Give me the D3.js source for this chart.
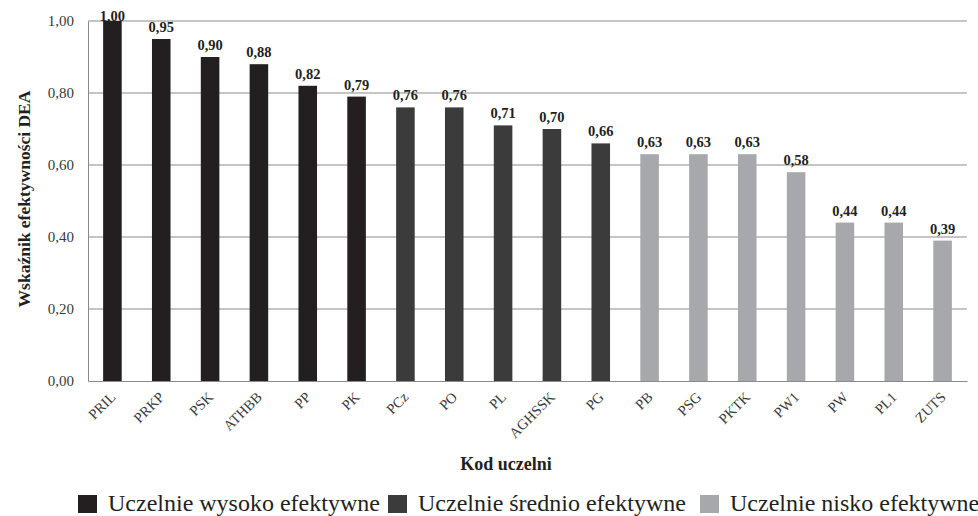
<!DOCTYPE html>
<html>
<head>
<meta charset="utf-8">
<script src="https://cdn.jsdelivr.net/npm/d3@7/dist/d3.min.js"></script>
<style>
  html, body { margin: 0; padding: 0; background: #fff; }
  svg { display: block; font-family: "Liberation Serif", "Times New Roman", serif; }
</style>
</head>
<body>
<svg id="chart" width="978" height="516"></svg>
<script>
// University codes, DEA efficiency scores and efficiency group
const categories = ["PRIL", "PRKP", "PSK", "ATHBB", "PP", "PK", "PCz", "PO", "PL", "AGHSSK",
                    "PG", "PB", "PSG", "PKTK", "PW1", "PW", "PL1", "ZUTS"];
const values = [1.00, 0.95, 0.90, 0.88, 0.82, 0.79, 0.76, 0.76, 0.71, 0.70,
                0.66, 0.63, 0.63, 0.63, 0.58, 0.44, 0.44, 0.39];
const groups = ["high", "high", "high", "high", "high", "high", "mid", "mid", "mid", "mid",
                "mid", "low", "low", "low", "low", "low", "low", "low"];
const yTicks = [0, 0.2, 0.4, 0.6, 0.8, 1.0];
const groupKeys = ["high", "mid", "low"];
const groupLabels = ["Uczelnie wysoko efektywne", "Uczelnie średnio efektywne", "Uczelnie nisko efektywne"];
const groupColors = ["#231f20", "#3b3b3b", "#a7a8ab"];

const svg = d3.select("#chart");
const plot = { left: 88, right: 967, top: 21, bottom: 381 };

const x = d3.scaleBand().domain(categories).range([plot.left, plot.right])
  .paddingInner(0.62).paddingOuter(0.31);
const y = d3.scaleLinear().domain([0, 1]).range([plot.bottom, plot.top]);
const color = d3.scaleOrdinal().domain(groupKeys).range(groupColors);
const fmt = v => d3.format(".2f")(v).replace(".", ",");

// horizontal gridlines
svg.append("g").selectAll("line").data(yTicks.filter(t => t > 0)).join("line")
  .attr("x1", plot.left).attr("x2", plot.right)
  .attr("y1", d => y(d)).attr("y2", d => y(d))
  .attr("stroke", "#8a8a8a").attr("stroke-width", 1);

// y axis
const yAxis = svg.append("g").attr("transform", `translate(${plot.left},0)`)
  .call(d3.axisLeft(y).tickValues(yTicks).tickFormat(fmt).tickSize(0).tickPadding(14));
yAxis.select(".domain").attr("stroke", "#8a8a8a");
yAxis.selectAll("text").attr("font-size", 15).attr("fill", "#3a3a3a")
  .attr("font-family", "Liberation Serif, serif");

// bars
const data = categories.map((c, i) => ({ c, v: values[i], g: groups[i] }));
svg.append("g").selectAll("rect").data(data).join("rect")
  .attr("x", d => x(d.c)).attr("width", x.bandwidth())
  .attr("y", d => y(d.v)).attr("height", d => y(0) - y(d.v))
  .attr("fill", d => color(d.g));

// x axis
const xAxis = svg.append("g").attr("transform", `translate(0,${plot.bottom})`)
  .call(d3.axisBottom(x).tickSize(0).tickPadding(0));
xAxis.select(".domain").attr("stroke", "#8a8a8a");
xAxis.selectAll("text")
  .attr("font-size", 14.5).attr("fill", "#3a3a3a").attr("font-family", "Liberation Serif, serif")
  .attr("text-anchor", "end").attr("dy", 0)
  .attr("transform", "translate(4,17) rotate(-45)");

// value labels
svg.append("g").selectAll("text").data(data).join("text")
  .attr("x", d => x(d.c) + x.bandwidth() / 2)
  .attr("y", d => Math.max(y(d.v) - 7, y(1) - 0.5))
  .attr("text-anchor", "middle")
  .attr("font-size", 14.5).attr("font-weight", "bold").attr("fill", "#231f20")
  .text(d => fmt(d.v));

// axis titles
svg.append("text")
  .attr("transform", "translate(24,199) rotate(-90)")
  .attr("text-anchor", "middle").attr("dy", "0.35em")
  .attr("font-size", 17.5).attr("font-weight", "bold").attr("fill", "#231f20")
  .text("Wskaźnik efektywności DEA");
svg.append("text")
  .attr("x", 506).attr("y", 470).attr("text-anchor", "middle")
  .attr("font-size", 18).attr("font-weight", "bold").attr("fill", "#231f20")
  .text("Kod uczelni");

// legend
const legendX = [78, 388, 700];
const legend = svg.append("g").selectAll("g").data(groupKeys).join("g")
  .attr("transform", (d, i) => `translate(${legendX[i]},495)`);
legend.append("rect").attr("width", 19).attr("height", 18).attr("fill", d => color(d));
legend.append("text").attr("x", 30).attr("y", 16)
  .attr("font-size", 24).attr("fill", "#231f20")
  .text((d, i) => groupLabels[i]);
</script>
</body>
</html>
